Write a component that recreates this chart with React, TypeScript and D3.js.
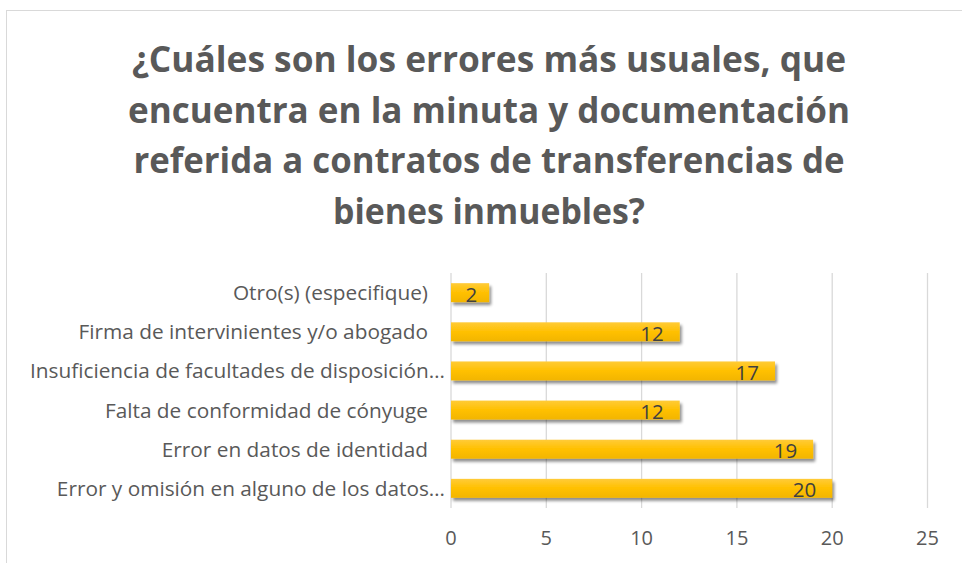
import React from "react";
import * as d3 from "d3";

const titleLines = [
  "¿Cuáles son los errores más usuales, que",
  "encuentra en la minuta y documentación",
  "referida a contratos de transferencias de",
  "bienes inmuebles?",
];
const titleWidths = [714, 722, 711, 312];
const categories = [
  "Otro(s) (especifique)",
  "Firma de intervinientes y/o abogado",
  "Insuficiencia de facultades de disposición…",
  "Falta de conformidad de cónyuge",
  "Error en datos de identidad",
  "Error y omisión en alguno de los datos…",
];
const values = [2, 12, 17, 12, 19, 20];
const xTicks = [0, 5, 10, 15, 20, 25];

const W = 962;
const H = 563;
const plot = { left: 451, right: 927.5, top: 273, bottom: 508 };

export default function App() {
  const x = d3.scaleLinear().domain([0, 25]).range([plot.left, plot.right]);
  const y = d3
    .scaleBand<string>()
    .domain(categories)
    .range([plot.top, plot.bottom])
    .paddingInner(0.515)
    .paddingOuter(0.26);
  const font = "'Open Sans', sans-serif";
  return (
    <svg
      width={W}
      height={H}
      style={{ position: "absolute", left: 0, top: 0, background: "#fff" }}
    >
      <defs>
        <linearGradient id="barGrad" x1="0" y1="0" x2="0" y2="1">
          <stop offset="0" stopColor="#FFCB38" />
          <stop offset="0.5" stopColor="#FFC000" />
          <stop offset="1" stopColor="#F2B500" />
        </linearGradient>
        <filter id="shadow" x="-10%" y="-30%" width="130%" height="190%">
          <feGaussianBlur in="SourceAlpha" stdDeviation="1.8" />
          <feOffset dx="2" dy="3" result="b" />
          <feComponentTransfer>
            <feFuncA type="linear" slope="0.45" />
          </feComponentTransfer>
          <feMerge>
            <feMergeNode />
            <feMergeNode in="SourceGraphic" />
          </feMerge>
        </filter>
      </defs>
      <rect x={6.5} y={10.5} width={W + 20} height={H + 20} fill="#fff" stroke="#D9D9D9" strokeWidth={1} />
      {titleLines.map((t, i) => (
        <text
          key={i}
          x={489}
          y={72 + i * 50.5}
          textAnchor="middle"
          fontFamily={font}
          fontWeight={700}
          fontSize={35}
          fill="#595959"
          textLength={titleWidths[i]}
          lengthAdjust="spacingAndGlyphs"
        >
          {t}
        </text>
      ))}
      {xTicks.map((t) => (
        <line key={t} x1={x(t)} x2={x(t)} y1={plot.top} y2={plot.bottom} stroke="#D9D9D9" strokeWidth={1.3} />
      ))}
      {categories.map((c, i) => {
        const by = y(c)!;
        const bh = y.bandwidth();
        return (
          <g key={c}>
            <rect x={x(0)} y={by} width={x(values[i]) - x(0)} height={bh} fill="url(#barGrad)" filter="url(#shadow)" />
            <text
              x={x(values[i]) - (values[i] < 10 ? 12 : 16)}
              y={by + bh / 2 + 1.6}
              dy="0.36em"
              textAnchor="end"
              fontFamily={font}
              fontSize={20.5}
              fill="#404040"
            >
              {values[i]}
            </text>
            <text
              x={c.endsWith("…") ? 445 : 428}
              y={by + bh / 2}
              dy="0.36em"
              textAnchor="end"
              fontFamily={font}
              fontSize={20.8}
              fill="#595959"
            >
              {c}
            </text>
          </g>
        );
      })}
      {xTicks.map((t) => (
        <text key={t} x={x(t)} y={538} dy="0.36em" textAnchor="middle" fontFamily={font} fontSize={20} fill="#595959">
          {t}
        </text>
      ))}
    </svg>
  );
}
